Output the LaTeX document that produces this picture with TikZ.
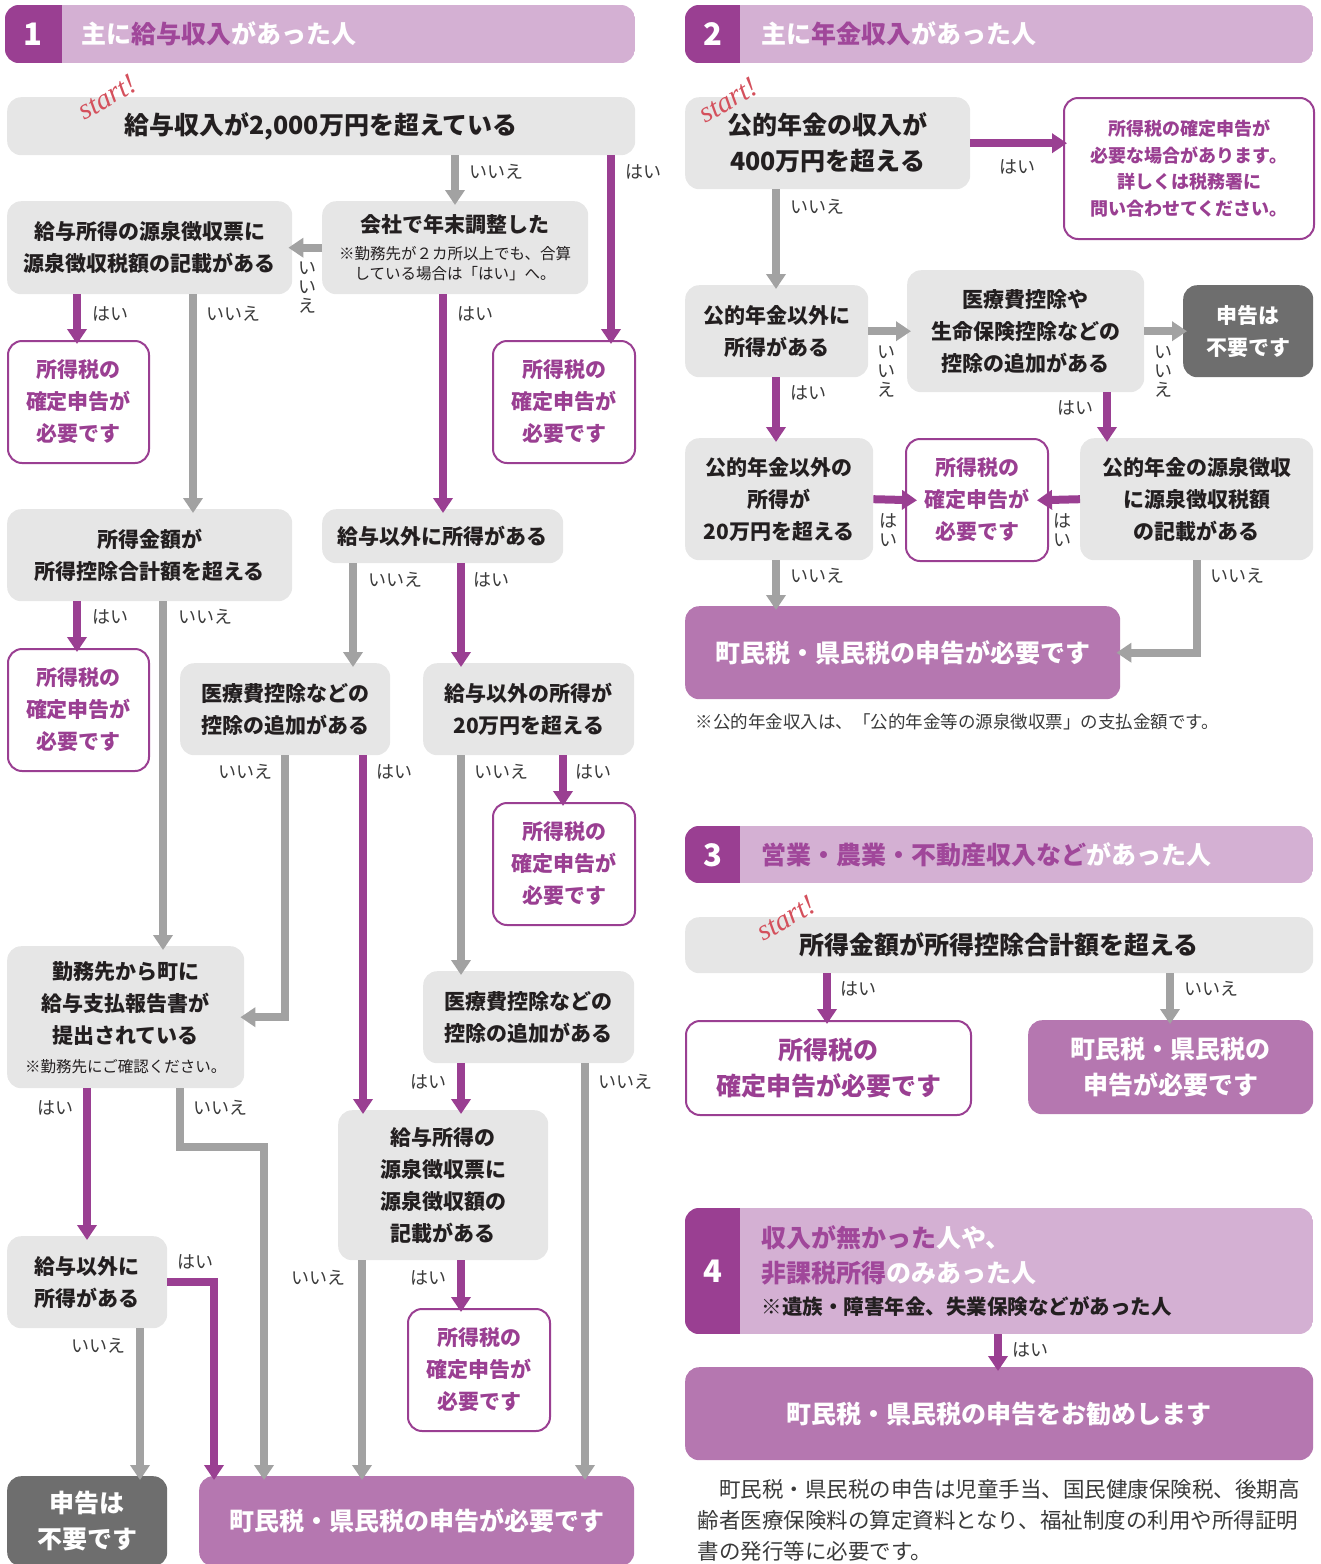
\documentclass[tikz,border=0pt]{standalone}
\usepackage{fontspec}
\setmainfont{Noto Sans CJK JP}
\newfontfamily\startfont{Liberation Serif}
\usetikzlibrary{arrows.meta}

\definecolor{pdark}{HTML}{9A3F92}
\definecolor{hlight}{HTML}{D4B0D3}
\definecolor{boxgray}{HTML}{E6E6E6}
\definecolor{agray}{HTML}{A2A2A2}
\definecolor{dgray}{HTML}{6E6E6E}
\definecolor{endpurple}{HTML}{B577B0}
\definecolor{txt}{HTML}{231F20}
\definecolor{labtxt}{HTML}{3A3A3A}
\definecolor{startred}{HTML}{D4505C}
\definecolor{hpurple}{HTML}{A0479A}

\newcommand\fsL{\fontsize{25}{36}\selectfont}
\newcommand\fsM{\fontsize{21}{32}\selectfont}
\newcommand\fsS{\fontsize{15.5}{20}\selectfont}
\newcommand\fsLab{\fontsize{18}{19}\selectfont}

\tikzset{
  gbox/.style={fill=boxgray, rounded corners=14pt, align=center, text=txt, font=\fsM\bfseries, inner sep=0pt, anchor=north west},
  needbox/.style={draw=pdark, line width=2pt, fill=white, rounded corners=14pt, align=center, text=pdark, font=\fsM\bfseries, inner sep=0pt, anchor=north west},
  endbox/.style={fill=endpurple, rounded corners=14pt, align=center, text=white, font=\fsL\bfseries, inner sep=0pt, anchor=north west},
  nonebox/.style={fill=dgray, rounded corners=14pt, align=center, text=white, font=\fsM\bfseries, inner sep=0pt, anchor=north west},
  yes/.style={draw=pdark, line width=8pt, shorten >=-4pt, -{Triangle[width=19pt,length=15pt]}},
  no/.style={draw=agray, line width=8pt, line join=miter, shorten >=-4pt, -{Triangle[width=19pt,length=15pt]}},
  lab/.style={font=\fsLab, text=labtxt},
  vlab/.style={font=\fsLab, text=labtxt, align=center},
  start/.style={font=\startfont\itshape\fontsize{29}{29}\selectfont, text=startred, rotate=30},
  num/.style={font=\fontsize{31}{31}\selectfont\bfseries, text=white},
  htxt/.style={font=\fontsize{25}{30}\selectfont\bfseries, text=white, anchor=west},
}

\begin{document}
\begin{tikzpicture}[x=1pt,y=-1pt]
\useasboundingbox (0,0) rectangle (1321,1564);

% columns for the connectors
\foreach \c in {77,87,140,163,180,193,214,264,285,353,362,363,443,455,461,563,585,611,776,827,998,1107,1170,1197}
  \coordinate (c\c) at (\c,0);

% ---------------- 1 ----------------
\begin{scope}
  \clip[rounded corners=14pt] (5,5) rectangle (635,63);
  \fill[hlight] (5,5) rectangle (635,63);
  \fill[pdark] (5,5) rectangle (62,63);
\end{scope}
\node[num] (n1) at (33,34) {1};
\node[htxt] (h1) at (78,34) {主に\textcolor{hpurple}{給与収入}があった人};

\node[gbox, font=\fsL\bfseries, minimum width=628pt, minimum height=58pt] (A) at (7,97) {給与収入が2,000万円を超えている};
\node[start] (s1) at (107,97) {start!};
\node[gbox, minimum width=266pt, minimum height=93pt] (B) at (322,201)
  {会社で年末調整した\\[-5pt]{\fsS\mdseries ※勤務先が２カ所以上でも、合算}\\[-12pt]{\fsS\mdseries している場合は「はい」へ。}};
\node[gbox, minimum width=285pt, minimum height=93pt] (C) at (7,201) {給与所得の源泉徴収票に\\源泉徴収税額の記載がある};
\node[needbox, minimum width=141pt, minimum height=122pt] (D1) at (7,340) {所得税の\\確定申告が\\必要です};
\node[needbox, minimum width=142pt, minimum height=122pt] (D2) at (492,340) {所得税の\\確定申告が\\必要です};
\node[gbox, minimum width=285pt, minimum height=92pt] (E) at (7,509) {所得金額が\\所得控除合計額を超える};
\node[gbox, minimum width=241pt, minimum height=54pt] (F) at (322,509) {給与以外に所得がある};
\node[needbox, minimum width=141pt, minimum height=122pt] (D3) at (7,648) {所得税の\\確定申告が\\必要です};
\node[gbox, minimum width=210pt, minimum height=92pt] (H) at (180,663) {医療費控除などの\\控除の追加がある};
\node[gbox, minimum width=211pt, minimum height=92pt] (I) at (423,663) {給与以外の所得が\\20万円を超える};
\node[needbox, minimum width=142pt, minimum height=122pt] (D4) at (492,802) {所得税の\\確定申告が\\必要です};
\node[gbox, minimum width=237pt, minimum height=142pt] (G) at (7,946)
  {勤務先から町に\\給与支払報告書が\\提出されている\\[-3pt]{\fontsize{15.5}{20}\selectfont\mdseries ※勤務先にご確認ください。}};
\node[gbox, minimum width=211pt, minimum height=92pt] (J) at (423,971) {医療費控除などの\\控除の追加がある};
\node[gbox, minimum width=210pt, minimum height=150pt] (K) at (338,1110) {給与所得の\\源泉徴収票に\\源泉徴収額の\\記載がある};
\node[needbox, minimum width=142pt, minimum height=122pt] (D5) at (407,1308) {所得税の\\確定申告が\\必要です};
\node[gbox, minimum width=160pt, minimum height=92pt] (L) at (7,1236) {給与以外に\\所得がある};
\node[nonebox, font=\fsL\bfseries, minimum width=160pt, minimum height=90pt] (M) at (7,1476) {申告は\\不要です};
\node[endbox, minimum width=435pt, minimum height=90pt] (Z) at (199,1476) {町民税・県民税の申告が必要です};

\draw[no] (A.south -| c455) -- (B.north -| c455);
\draw[yes] (A.south -| c611) -- (D2.north -| c611);
\draw[no] (B.west) -- (C.east);
\draw[yes] (C.south -| c77) -- (D1.north -| c77);
\draw[no] (C.south -| c193) -- (E.north -| c193);
\draw[yes] (B.south -| c443) -- (F.north -| c443);
\draw[yes] (E.south -| c77) -- (D3.north -| c77);
\draw[no] (E.south -| c163) -- (G.north -| c163);
\draw[no] (F.south -| c353) -- (H.north -| c353);
\draw[yes] (F.south -| c461) -- (I.north -| c461);
\draw[no] (H.south -| c285) |- (G.east);
\draw[yes] (H.south -| c363) -- (K.north -| c363);
\draw[no] (I.south -| c461) -- (J.north -| c461);
\draw[yes] (I.south -| c563) -- (D4.north -| c563);
\draw[yes] (J.south -| c461) -- (K.north -| c461);
\draw[no] (J.south -| c585) -- (Z.north -| c585);
\draw[yes] (K.south -| c461) -- (D5.north -| c461);
\draw[no] (K.south -| c362) -- (Z.north -| c362);
\draw[yes] (G.south -| c87) -- (L.north -| c87);
\draw[no] (G.south -| c180) -- ++(0,59) -| (Z.north -| c264);
\draw[yes] (L.east) -| (Z.north -| c214);
\draw[no] (L.south -| c140) -- (M.north -| c140);

\node[lab] (l1) at (496,172) {いいえ};
\node[lab] (l2) at (643,172) {はい};
\node[vlab] (l3) at (307,288) {い\\い\\え};
\node[lab] (l4) at (110,314) {はい};
\node[lab] (l5) at (233,314) {いいえ};
\node[lab] (l6) at (475,314) {はい};
\node[lab] (l7) at (110,617) {はい};
\node[lab] (l8) at (205,617) {いいえ};
\node[lab] (l9) at (395,580) {いいえ};
\node[lab] (l10) at (491,580) {はい};
\node[lab] (l11) at (245,772) {いいえ};
\node[lab] (l12) at (394,772) {はい};
\node[lab] (l13) at (501,772) {いいえ};
\node[lab] (l14) at (593,772) {はい};
\node[lab] (l15) at (428,1082) {はい};
\node[lab] (l16) at (625,1082) {いいえ};
\node[lab] (l17) at (318,1278) {いいえ};
\node[lab] (l18) at (428,1278) {はい};
\node[lab] (l19) at (55,1108) {はい};
\node[lab] (l20) at (220,1108) {いいえ};
\node[lab] (l21) at (195,1262) {はい};
\node[lab] (l22) at (98,1346) {いいえ};

% ---------------- 2 ----------------
\begin{scope}
  \clip[rounded corners=14pt] (685,5) rectangle (1313,63);
  \fill[hlight] (685,5) rectangle (1313,63);
  \fill[pdark] (685,5) rectangle (740,63);
\end{scope}
\node[num] (n2) at (713,34) {2};
\node[htxt] (h2) at (758,34) {主に\textcolor{hpurple}{年金収入}があった人};

\node[gbox, font=\fsL\bfseries, minimum width=285pt, minimum height=92pt] (P1) at (685,97) {公的年金の収入が\\400万円を超える};
\node[start] (s2) at (728,100) {start!};
\node[needbox, font=\fontsize{18}{26.5}\selectfont\bfseries, minimum width=250pt, minimum height=141pt] (P2) at (1063,97)
  {所得税の確定申告が\\必要な場合があります。\\詳しくは税務署に\\問い合わせてください。};
\node[gbox, minimum width=183pt, minimum height=92pt] (P3) at (685,285) {公的年金以外に\\所得がある};
\node[gbox, minimum width=237pt, minimum height=122pt] (P4) at (907,270) {医療費控除や\\生命保険控除などの\\控除の追加がある};
\node[nonebox, minimum width=130pt, minimum height=92pt] (P5) at (1183,285) {申告は\\不要です};
\node[gbox, minimum width=188pt, minimum height=122pt] (P6) at (685,438) {公的年金以外の\\所得が\\20万円を超える};
\node[needbox, minimum width=142pt, minimum height=122pt] (P7) at (905,438) {所得税の\\確定申告が\\必要です};
\node[gbox, minimum width=233pt, minimum height=122pt] (P8) at (1080,438) {公的年金の源泉徴収\\に源泉徴収税額\\の記載がある};
\node[endbox, minimum width=435pt, minimum height=93pt] (P9) at (685,606) {町民税・県民税の申告が必要です};
\node[font=\fontsize{17.5}{20}\selectfont, text=labtxt, anchor=west] (note2) at (692,722) {※公的年金収入は、「公的年金等の源泉徴収票」の支払金額です。};

\draw[yes] (P1.east) -- (P1.east -| P2.west);
\draw[no] (P1.south -| c776) -- (P3.north -| c776);
\draw[no] (P3.east) -- (P3.east -| P4.west);
\draw[no] (P4.east) -- (P5.west);
\draw[yes] (P3.south -| c776) -- (P6.north -| c776);
\draw[yes] (P4.south -| c1107) -- (P8.north -| c1107);
\draw[yes, shorten >=-12pt] (P6.east) -- (P7.west);
\draw[yes, shorten >=-12pt] (P8.west) -- (P7.east);
\draw[no] (P6.south -| c776) -- (P9.north -| c776);
\draw[no] (P8.south -| c1197) |- (P9.east);

\node[lab] (m1) at (1017,167) {はい};
\node[lab] (m2) at (817,207) {いいえ};
\node[vlab] (m3) at (886,372) {い\\い\\え};
\node[vlab] (m4) at (1163,372) {い\\い\\え};
\node[lab] (m5) at (808,393) {はい};
\node[lab] (m6) at (1075,408) {はい};
\node[vlab] (m7) at (888,530) {は\\い};
\node[vlab] (m8) at (1062,530) {は\\い};
\node[lab] (m9) at (817,576) {いいえ};
\node[lab] (m10) at (1237,576) {いいえ};

% ---------------- 3 ----------------
\begin{scope}
  \clip[rounded corners=14pt] (685,826) rectangle (1313,883);
  \fill[hlight] (685,826) rectangle (1313,883);
  \fill[pdark] (685,826) rectangle (740,883);
\end{scope}
\node[num] (n3) at (713,855) {3};
\node[htxt] (h3) at (758,855) {\textcolor{hpurple}{営業・農業・不動産収入など}があった人};

\node[gbox, font=\fsL\bfseries, minimum width=628pt, minimum height=56pt] (Q1) at (685,917) {所得金額が所得控除合計額を超える};
\node[start] (s3) at (786,918) {start!};
\node[needbox, font=\fsL\bfseries, minimum width=285pt, minimum height=94pt] (Q2) at (685,1020) {所得税の\\確定申告が必要です};
\node[endbox, minimum width=285pt, minimum height=94pt] (Q3) at (1028,1020) {町民税・県民税の\\申告が必要です};

\draw[yes] (Q1.south -| c827) -- (Q2.north -| c827);
\draw[no] (Q1.south -| c1170) -- (Q3.north -| c1170);
\node[lab] (q1) at (858,989) {はい};
\node[lab] (q2) at (1211,989) {いいえ};

% ---------------- 4 ----------------
\begin{scope}
  \clip[rounded corners=14pt] (685,1208) rectangle (1313,1334);
  \fill[hlight] (685,1208) rectangle (1313,1334);
  \fill[pdark] (685,1208) rectangle (740,1334);
\end{scope}
\node[num] (n4) at (713,1271) {4};
\node[htxt] (h4a) at (758,1238) {\textcolor{hpurple}{収入が無かった}人や、};
\node[htxt] (h4b) at (758,1273) {\textcolor{hpurple}{非課税所得}のみあった人};
\node[htxt, font=\fontsize{20.5}{24}\selectfont\bfseries, text=txt] (h4c) at (758,1307) {※遺族・障害年金、失業保険などがあった人};
\coordinate (h4end) at (998,1334);

\node[endbox, minimum width=628pt, minimum height=93pt] (R) at (685,1367) {町民税・県民税の申告をお勧めします};
\draw[yes] (h4end) -- (R.north -| h4end);
\node[lab] (r1) at (1030,1350) {はい};

\node[font=\fontsize{21.5}{31}\selectfont, text=labtxt, align=left, anchor=north west] (para) at (694,1476)
  {　町民税・県民税の申告は児童手当、国民健康保険税、後期高\\齢者医療保険料の算定資料となり、福祉制度の利用や所得証明\\書の発行等に必要です。};
\end{tikzpicture}
\end{document}
